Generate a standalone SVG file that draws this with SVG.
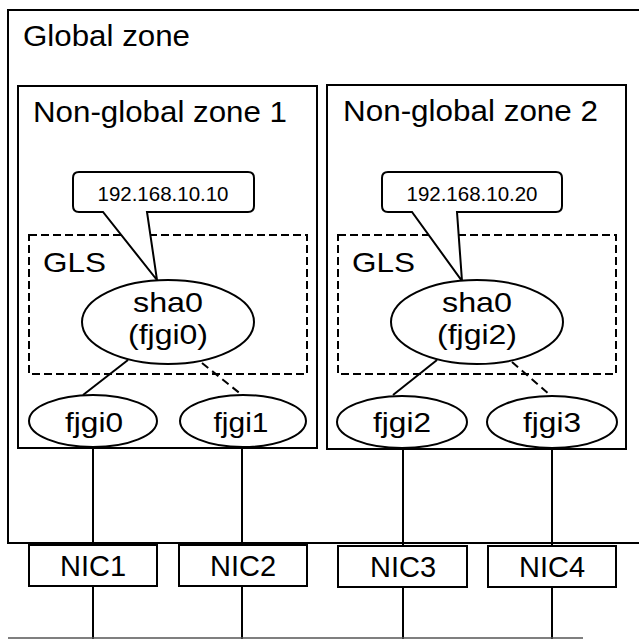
<svg xmlns="http://www.w3.org/2000/svg" width="639" height="639" viewBox="0 0 639 639">
<style>
.box{fill:#fff;stroke:#000;stroke-width:2}
.dash{fill:none;stroke:#000;stroke-width:2;stroke-dasharray:8,4}
.ln{fill:none;stroke:#000;stroke-width:2}
.dln{fill:none;stroke:#000;stroke-width:2;stroke-dasharray:8,5}
text{font-family:"Liberation Sans",Arial,sans-serif;fill:#000}
.big{font-size:29px}
.mid{font-size:28px}
.sm{font-size:20px}
.c{text-anchor:middle}
</style>
<rect width="639" height="639" fill="#fff"/>
<g id="global-zone">
<path class="ln" d="M645 10 H8 V543 H645"/>
<text class="big" x="23" y="46" textLength="167" lengthAdjust="spacingAndGlyphs">Global zone</text>
</g>
<g id="nonglobal-zone-1">
<rect class="box" x="18" y="86" width="299" height="362"/>
<text class="big" x="33" y="122" textLength="254" lengthAdjust="spacingAndGlyphs">Non-global zone 1</text>
</g>
<g id="nonglobal-zone-2">
<rect class="box" x="327" y="85" width="299" height="364"/>
<text class="big" x="343" y="121" textLength="255" lengthAdjust="spacingAndGlyphs">Non-global zone 2</text>
</g>
<g id="gls-1">
<rect class="dash" x="29" y="235" width="278" height="139"/>
<text class="mid" x="43" y="272" textLength="63" lengthAdjust="spacingAndGlyphs">GLS</text>
</g>
<g id="gls-2">
<rect class="dash" x="338" y="235" width="278" height="139"/>
<text class="mid" x="352" y="272" textLength="63" lengthAdjust="spacingAndGlyphs">GLS</text>
</g>
<g id="connectors">
<line class="ln" x1="128" y1="360" x2="83" y2="395"/>
<line class="dln" x1="202" y1="363" x2="242" y2="395"/>
<line class="ln" x1="437" y1="360" x2="393" y2="395"/>
<line class="dln" x1="512" y1="362" x2="550" y2="395"/>
<line class="ln" x1="93" y1="448" x2="93" y2="545"/>
<line class="ln" x1="242" y1="448" x2="242" y2="545"/>
<line class="ln" x1="403" y1="449" x2="403" y2="546"/>
<line class="ln" x1="552" y1="449" x2="552" y2="546"/>
<line class="ln" x1="93" y1="586" x2="93" y2="639"/>
<line class="ln" x1="242" y1="586" x2="242" y2="639"/>
<line class="ln" x1="403" y1="587" x2="403" y2="639"/>
<line class="ln" x1="552" y1="587" x2="552" y2="639"/>
<line x1="8" y1="638" x2="583" y2="638" stroke="#555" stroke-width="1.5"/>
</g>
<g id="callout-1">
<path class="box" d="M79 172 H248 Q254 172 254 178 V206 Q254 212 248 212 H147 L157 280 L103 212 H79 Q73 212 73 206 V178 Q73 172 79 172 Z"/>
<text class="sm c" x="163" y="201" textLength="131" lengthAdjust="spacingAndGlyphs">192.168.10.10</text>
</g>
<g id="callout-2">
<path class="box" d="M388 172 H556 Q562 172 562 178 V206 Q562 212 556 212 H457 L462 281 L412 212 H388 Q382 212 382 206 V178 Q382 172 388 172 Z"/>
<text class="sm c" x="472" y="201" textLength="131" lengthAdjust="spacingAndGlyphs">192.168.10.20</text>
</g>
<g id="sha0-1">
<ellipse class="box" cx="168" cy="322" rx="86" ry="42"/>
<text class="mid c" x="168" y="312" textLength="70" lengthAdjust="spacingAndGlyphs">sha0</text>
<text class="mid c" x="168" y="344" textLength="80" lengthAdjust="spacingAndGlyphs">(fjgi0)</text>
</g>
<g id="sha0-2">
<ellipse class="box" cx="477" cy="322" rx="86" ry="42"/>
<text class="mid c" x="477" y="312" textLength="70" lengthAdjust="spacingAndGlyphs">sha0</text>
<text class="mid c" x="477" y="344" textLength="80" lengthAdjust="spacingAndGlyphs">(fjgi2)</text>
</g>
<g id="fjgi0">
<ellipse class="box" cx="93" cy="421" rx="64" ry="26"/>
<text class="mid c" x="94" y="432" textLength="58" lengthAdjust="spacingAndGlyphs">fjgi0</text>
</g>
<g id="fjgi1">
<ellipse class="box" cx="243" cy="421" rx="63" ry="26"/>
<text class="mid c" x="241" y="432" textLength="55" lengthAdjust="spacingAndGlyphs">fjgi1</text>
</g>
<g id="fjgi2">
<ellipse class="box" cx="402" cy="422" rx="65" ry="26"/>
<text class="mid c" x="402" y="432" textLength="58" lengthAdjust="spacingAndGlyphs">fjgi2</text>
</g>
<g id="fjgi3">
<ellipse class="box" cx="552" cy="422" rx="65" ry="26"/>
<text class="mid c" x="552" y="432" textLength="58" lengthAdjust="spacingAndGlyphs">fjgi3</text>
</g>
<g id="nic1">
<rect class="box" x="29" y="545" width="128" height="41"/>
<text class="big c" x="93" y="576">NIC1</text>
</g>
<g id="nic2">
<rect class="box" x="179" y="545" width="128" height="41"/>
<text class="big c" x="243" y="576">NIC2</text>
</g>
<g id="nic3">
<rect class="box" x="338" y="546" width="129" height="41"/>
<text class="big c" x="403" y="577">NIC3</text>
</g>
<g id="nic4">
<rect class="box" x="488" y="546" width="128" height="41"/>
<text class="big c" x="552" y="577">NIC4</text>
</g>
</svg>
